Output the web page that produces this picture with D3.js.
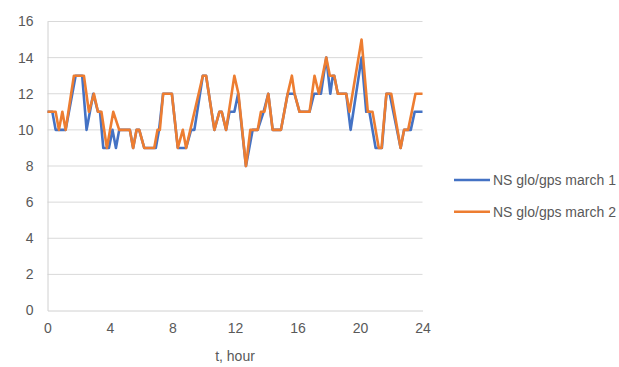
<!DOCTYPE html>
<html>
<head>
<meta charset="utf-8">
<script src="https://d3js.org/d3.v7.min.js"></script>
<style>
  body { margin: 0; background: #fff; }
  svg text { font-family: "Liberation Sans", Arial, sans-serif; fill: #595959; }
</style>
</head>
<body>
<svg id="chart"></svg>
<script>
// NS glo/gps march 1 (vertices)
const hours1 = [0, 0.31, 0.52, 1.16, 1.8, 2.22, 2.5, 2.93, 3.23, 3.36, 3.57, 3.93, 4.16, 4.38, 4.59,
  5.27, 5.48, 5.7, 5.87, 6.19, 6.93, 7.14, 7.4, 7.96, 8.34, 8.87, 9.19, 9.4, 9.94, 10.15, 10.68,
  11.0, 11.15, 11.43, 11.65, 11.96, 12.2, 12.7, 13.13, 13.45, 13.83, 14.13, 14.41, 14.94, 15.37,
  15.81, 16.13, 16.77, 17.06, 17.5, 17.84, 18.1, 18.26, 18.35, 18.58, 19.12, 19.4, 20.1, 20.4,
  20.6, 21.0, 21.4, 21.69, 21.9, 22.6, 22.82, 23.25, 23.5, 24];
const ns1 = [11, 11, 10, 10, 13, 13, 10, 12, 11, 11, 9, 9, 10, 9, 10,
  10, 9, 10, 10, 9, 9, 10, 12, 12, 9, 9, 10, 10, 13, 13, 10,
  11, 11, 10, 11, 11, 12, 8, 10, 10, 11, 12, 10, 10, 12,
  12, 11, 11, 12, 12, 14, 12, 13, 13, 12, 12, 10, 14, 11,
  11, 9, 9, 12, 12, 9, 10, 10, 11, 11];

// NS glo/gps march 2
const hours2 = [0, 0.52, 0.73, 0.95, 1.16, 1.69, 2.33, 2.65, 2.97, 3.23, 3.45, 3.8, 4.21, 4.59,
  5.27, 5.48, 5.7, 5.87, 6.19, 6.83, 7.04, 7.19, 7.4, 7.96, 8.34, 8.66, 8.87, 9.94, 10.15, 10.68,
  11.0, 11.15, 11.43, 11.96, 12.22, 12.7, 12.98, 13.45, 13.66, 13.88, 14.13, 14.41, 14.94, 15.37,
  15.64, 15.81, 16.13, 16.77, 17.09, 17.37, 17.84, 18.07, 18.35, 18.58, 19.12, 19.33, 20.1, 20.5,
  20.8, 21.2, 21.38, 21.69, 22.0, 22.6, 22.82, 23.08, 23.55, 24];
const ns2 = [11, 11, 10, 11, 10, 13, 13, 11, 12, 11, 11, 9, 11, 10,
  10, 9, 10, 10, 9, 9, 10, 10, 12, 12, 9, 10, 9, 13, 13, 10,
  11, 11, 10, 13, 12, 8, 10, 10, 11, 11, 12, 10, 10, 12,
  13, 12, 11, 11, 13, 12, 14, 13, 13, 12, 12, 11, 15, 11,
  11, 9, 9, 12, 12, 9, 10, 10, 12, 12];

const seriesNames = ["NS glo/gps march 1", "NS glo/gps march 2"];
const seriesColors = ["#4472C4", "#ED7D31"];
const xTicks = [0, 4, 8, 12, 16, 20, 24];
const yTicks = [0, 2, 4, 6, 8, 10, 12, 14, 16];
const xTitle = "t, hour";

const width = 619, height = 367;
const plotLeft = 47.5, plotRight = 422.5, plotTop = 21.5, plotBottom = 310.5;

const svg = d3.select("#chart").attr("width", width).attr("height", height);

const x = d3.scaleLinear().domain([0, 24]).range([plotLeft, plotRight]);
const y = d3.scaleLinear().domain([0, 16]).range([plotBottom, plotTop]);

// gridlines
svg.append("g")
    .selectAll("line")
    .data(yTicks.slice(1))
    .enter()
    .append("line")
    .attr("x1", plotLeft).attr("x2", plotRight)
    .attr("y1", d => y(d)).attr("y2", d => y(d))
    .attr("stroke", "#d9d9d9").attr("stroke-width", 1);

// axes
const xAxis = svg.append("g")
    .attr("transform", `translate(0, ${plotBottom})`)
    .call(d3.axisBottom(x).tickValues(xTicks).tickSize(0).tickPadding(13));
const yAxis = svg.append("g")
    .attr("transform", `translate(${plotLeft}, 0)`)
    .call(d3.axisLeft(y).tickValues(yTicks).tickSize(0).tickPadding(14));

[xAxis, yAxis].forEach(a => {
    a.select(".domain").attr("stroke", "#d0d0d0").attr("stroke-width", 1);
    a.selectAll("text").attr("font-size", 14).attr("fill", "#595959")
        .attr("font-family", '"Liberation Sans", Arial, sans-serif');
});

svg.append("text")
    .attr("x", (plotLeft + plotRight) / 2)
    .attr("y", 361)
    .attr("text-anchor", "middle")
    .attr("font-size", 14)
    .text(xTitle);

// lines
const series = [
    hours1.map((h, i) => ({ h: h, v: ns1[i] })),
    hours2.map((h, i) => ({ h: h, v: ns2[i] }))
];
const line = d3.line().x(d => x(d.h)).y(d => y(d.v));

svg.append("g")
    .selectAll("path")
    .data(series)
    .enter()
    .append("path")
    .attr("d", line)
    .attr("fill", "none")
    .attr("stroke", (d, i) => seriesColors[i])
    .attr("stroke-width", 2.6)
    .attr("stroke-linejoin", "round");

// legend
const legend = svg.append("g")
    .selectAll("g")
    .data(seriesNames)
    .enter()
    .append("g")
    .attr("transform", (d, i) => `translate(454, ${180 + i * 31.7})`);

legend.append("line")
    .attr("x1", 0).attr("x2", 36)
    .attr("stroke", (d, i) => seriesColors[i])
    .attr("stroke-width", 2.6);

legend.append("text")
    .attr("x", 39)
    .attr("dy", "0.35em")
    .attr("font-size", 14)
    .text(d => d);
</script>
</body>
</html>
